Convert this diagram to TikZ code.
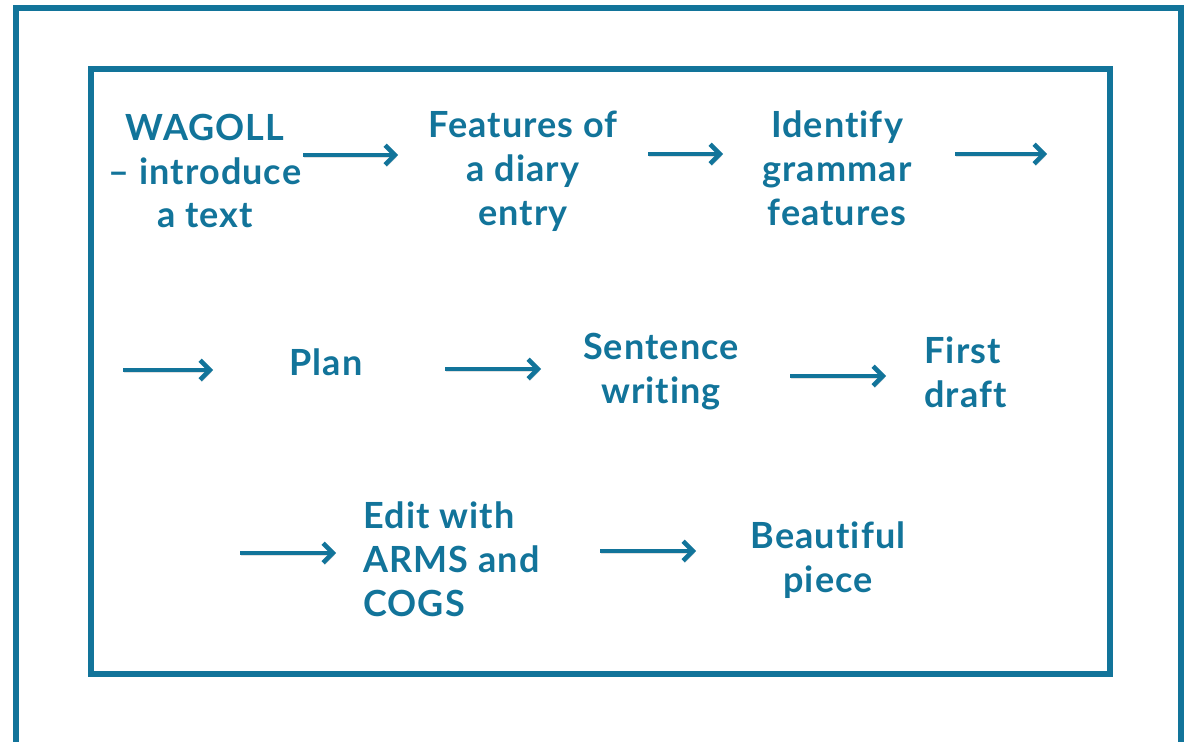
\documentclass[tikz,border=0pt]{standalone}
\usepackage{fontspec}
\setmainfont{Lato}[LetterSpace=3, Ligatures=CommonOff]
\usetikzlibrary{arrows.meta}
\definecolor{kteal}{HTML}{12749A}

\begin{document}
\begin{tikzpicture}[x=0.02cm, y=-0.02cm,
  stage/.style={font=\fontsize{20.5}{25}\selectfont\bfseries, text=kteal, align=center, inner sep=0pt},
  flow/.style={kteal, line width=2.6pt, -{Straight Barb[length=5.5pt, width=11pt]},
    preaction={draw=black!12, transform canvas={shift={(0.8pt,-1.2pt)}}}}]
\useasboundingbox (0,0) rectangle (1192,742);
% outer and inner frame
\draw[kteal, line width=3.2pt] (16,742) -- (16,8) -- (1181,8) -- (1181,742);
\draw[kteal, line width=3.2pt] (91,69) rectangle (1110,674);

% first row
\node[stage] (wagoll) at (205,171) {WAGOLL\\– introduce\\a text};
\node[stage] (features) at (523,171) {Features of\\a diary\\entry};
\node[stage] (grammar) at (837,168) {Identify\\grammar\\features};
% second row
\node[stage] (plan) at (326,362) {Plan};
\node[stage] (sentence) at (661,372) {Sentence\\writing};
\node[stage, align=left, anchor=west] (draft) at (924,372) {First\\draft};
% third row
\node[stage, align=left, anchor=west] (edit) at (363,559) {Edit with\\ARMS and\\COGS};
\node[stage] (piece) at (828,560) {Beautiful\\piece};

% arrow ends
\coordinate (a1) at (303,155); \coordinate (b1) at (398,155);
\coordinate (a2) at (648,154); \coordinate (b2) at (723,154);
\coordinate (a3) at (955,154); \coordinate (b3) at (1047,154);
\coordinate (a4) at (123,370); \coordinate (b4) at (213,370);
\coordinate (a5) at (445,369); \coordinate (b5) at (541,369);
\coordinate (a6) at (790,376); \coordinate (b6) at (886,376);
\coordinate (a7) at (240,553); \coordinate (b7) at (336,553);
\coordinate (a8) at (600,551); \coordinate (b8) at (696,551);
\foreach \i in {1,...,8}
  \draw[flow] (a\i) -- (b\i);
\end{tikzpicture}
\end{document}
